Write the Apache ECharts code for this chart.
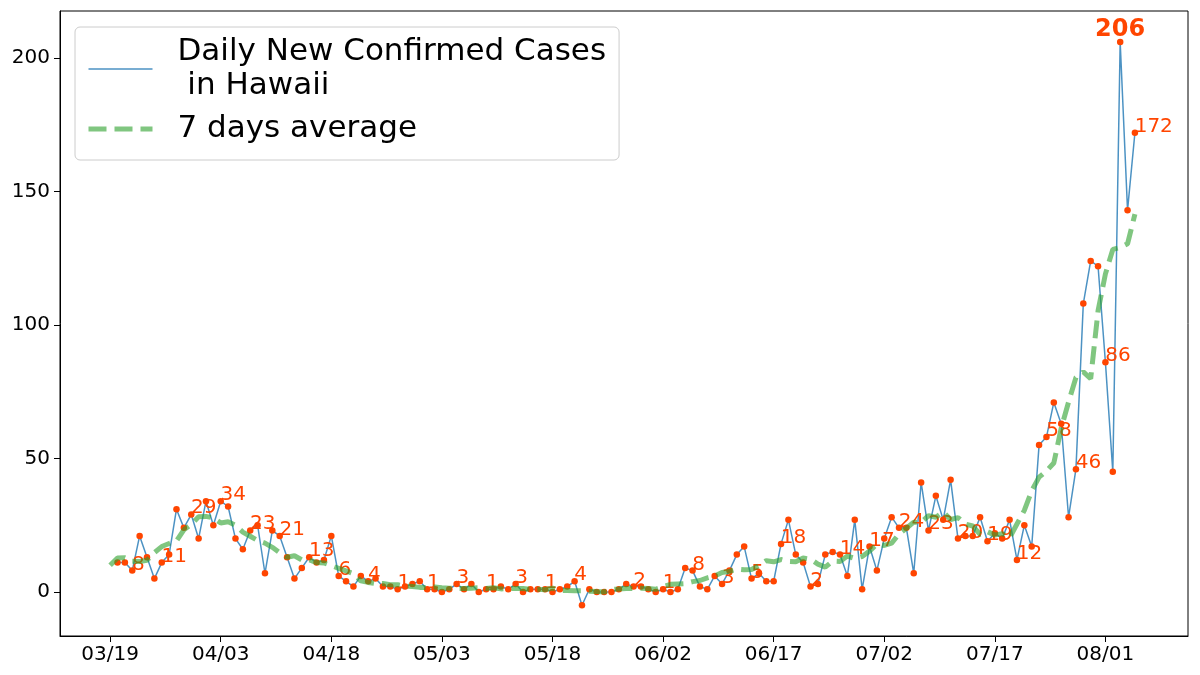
<!DOCTYPE html>
<html><head><meta charset="utf-8">
<script src="https://cdn.jsdelivr.net/npm/echarts@6/dist/echarts.min.js"></script>
<style>html,body{margin:0;padding:0;background:#fff}#c{width:1200px;height:675px}</style>
</head><body><div id="c"></div>
<script>
// x positions are day indices counted from 03/19
const tickDays = [0, 15, 30, 45, 60, 75, 90, 105, 120, 135];
const tickLabels = ['03/19','04/03','04/18','05/03','05/18','06/02','06/17','07/02','07/17','08/01'];
const yTicks = [0, 50, 100, 150, 200];

const seriesDailyName = 'Daily New Confirmed Cases\n in Hawaii';
const seriesAvgName = '7 days average';

// daily new confirmed cases (day 0 has no value)
const daily = [null,
  11,11,8,21,13,5,11,14,31,24,
  29,20,34,25,34,32,20,16,23,25,
  7,23,21,13,5,9,13,11,12,21,
  6,4,2,6,4,5,2,2,1,2,
  3,4,1,1,0,1,3,1,3,0,
  1,1,2,1,3,0,1,1,1,0,
  1,2,4,-5,1,0,0,0,1,3,
  2,2,1,0,1,0,1,9,8,2,
  1,6,3,8,14,17,5,7,4,4,
  18,27,14,11,2,3,14,15,14,6,
  27,1,17,8,20,28,24,24,7,41,
  23,36,27,42,20,21,21,28,19,22,
  20,27,12,25,17,55,58,71,63,28,
  46,108,124,122,86,45,206,143,172];

// 7 days average
const avg7 = [
  10.0,12.75,12.8,11.5,11.43,11.86,14.71,17.0,18.14,19.14,
  23.29,25.29,28.14,28.29,27.71,25.86,26.29,25.0,22.43,20.86,
  19.29,18.29,16.71,14.71,13.0,13.57,12.0,12.0,11.0,10.86,
  9.86,8.86,7.86,6.86,4.14,3.57,3.14,3.14,2.71,2.71,
  2.14,2.0,1.71,1.71,1.86,1.57,1.43,1.29,1.29,1.43,
  1.57,1.29,1.57,1.14,1.29,1.29,1.29,1.0,1.0,0.86,
  1.43,0.57,0.57,0.43,0.43,0.29,0.14,0.0,1.0,1.14,
  1.29,1.29,1.43,1.29,1.0,2.0,2.86,3.0,3.14,3.86,
  4.29,5.29,6.0,7.29,7.71,8.57,8.29,8.43,9.86,11.71,
  11.29,12.14,11.43,11.29,12.71,12.29,10.43,9.29,11.57,11.43,
  13.43,12.57,13.29,15.29,17.86,17.43,18.29,21.71,23.86,26.14,
  26.0,28.57,28.0,30.0,27.14,27.86,25.43,24.71,21.57,22.57,
  21.29,21.86,20.29,25.43,30.57,37.86,43.0,45.29,48.29,61.29,
  71.14,80.29,82.43,79.86,105.29,119.14,128.29,129.0,130.4,141.5];

const FONT = 'DejaVu Sans';
const RED = '#ff4500';
const CLEAR = 'rgba(0,0,0,0)';

let maxIdx = 0;
daily.forEach((v, i) => { if (v !== null && v > daily[maxIdx]) maxIdx = i; });

const linePts = daily.map((v, i) => [i, v]);
const dotPts = [];
daily.forEach((v, i) => {
  if (v === null) return;
  const item = { value: [i, v] };
  if (i === maxIdx) {
    item.label = { show: true, position: 'top', distance: -3, align: 'center', verticalAlign: 'bottom',
      offset: [0, 0], fontSize: 24, fontWeight: 'bold' };
  } else if (i % 4 === 3 && v !== 0) {
    item.label = { show: true };
  }
  dotPts.push(item);
});
const avgPts = avg7.map((v, i) => [i, v]);

const chart = echarts.init(document.getElementById('c'), null, { renderer: 'canvas' });
chart.setOption({
  animation: false,
  backgroundColor: '#fff',
  textStyle: { fontFamily: FONT },
  grid: { left: 60, right: 12, top: 11, bottom: 39, show: true, borderColor: '#000', borderWidth: 1, backgroundColor: 'transparent' },
  xAxis: {
    type: 'value', min: -6.8, max: 146.2,
    axisLine: { show: true, onZero: false, lineStyle: { color: '#000', width: 1 } },
    axisTick: { show: true, inside: false, length: 6, customValues: tickDays, lineStyle: { color: '#000' } },
    axisLabel: { customValues: tickDays, formatter: v => tickLabels[tickDays.indexOf(v)], fontSize: 20, color: '#000', margin: 9, fontFamily: FONT },
    splitLine: { show: false }
  },
  yAxis: {
    type: 'value', min: -16.5, max: 217.6,
    axisLine: { show: true, onZero: false, lineStyle: { color: '#000', width: 1 } },
    axisTick: { show: true, inside: false, length: 6, customValues: yTicks, lineStyle: { color: '#000' } },
    axisLabel: { customValues: yTicks, fontSize: 20, color: '#000', margin: 10, fontFamily: FONT },
    splitLine: { show: false }
  },
  legend: {
    orient: 'vertical', left: 75, top: 27,
    padding: [8, 13, 14, 11],
    itemWidth: 64, itemHeight: 14, itemGap: 9,
    borderColor: '#cccccc', borderWidth: 1, borderRadius: 5,
    backgroundColor: 'rgba(255,255,255,0.8)',
    lineStyle: { width: 'inherit' },
    textStyle: { fontSize: 31, lineHeight: 34, color: '#000', fontFamily: FONT, padding: [0, 0, 0, 20] },
    data: [seriesDailyName, seriesAvgName]
  },
  series: [
    {
      name: seriesDailyName, type: 'line', data: linePts, symbol: 'none', connectNulls: false,
      lineStyle: { color: '#1f77b4', width: 1.5, opacity: 0.8 }, itemStyle: { color: CLEAR, borderColor: CLEAR }, z: 2
    },
    {
      name: 'points', type: 'scatter', data: dotPts, symbol: 'circle', symbolSize: 6.5,
      itemStyle: { color: RED, opacity: 1 }, z: 3,
      label: { show: false, position: [3, 3], align: 'left', verticalAlign: 'bottom', offset: [0, 4],
        fontSize: 20, color: RED, fontFamily: FONT, formatter: p => String(p.value[1]) }
    },
    {
      name: seriesAvgName, type: 'line', data: avgPts, symbol: 'none',
      lineStyle: { color: '#2ca02c', width: 5, opacity: 0.6, type: [18, 8], cap: 'butt' },
      itemStyle: { color: CLEAR, borderColor: CLEAR }, z: 4
    }
  ]
});
</script></body></html>
